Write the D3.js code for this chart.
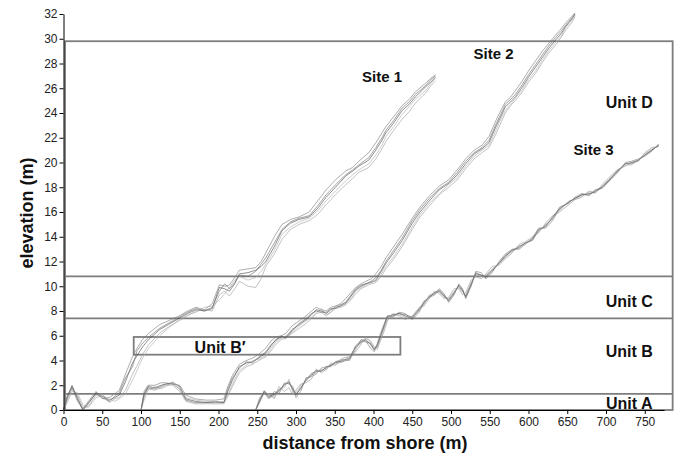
<!DOCTYPE html>
<html lang="en">
<head>
<meta charset="UTF-8" />
<title>Cross-shore elevation profiles</title>
<script src="https://cdn.jsdelivr.net/npm/d3@7"></script>
<style>
  body { margin: 0; background: #fff; }
  svg text { font-family: "Liberation Sans", Arial, Helvetica, sans-serif; }
  .tick text { font-size: 12px; fill: #222; }
  .lbl { font-weight: bold; fill: #111; }
</style>
</head>
<body>
<svg id="chart" width="678" height="455"></svg>
<script>
// x ticks / y ticks
const xTicks = [0, 50, 100, 150, 200, 250, 300, 350, 400, 450, 500, 550, 600, 650, 700, 750];
const yTicks = [0, 2, 4, 6, 8, 10, 12, 14, 16, 18, 20, 22, 24, 26, 28, 30, 32];

// unit boundaries (m elevation) and names
const unitTops = [29.8, 10.8, 7.4, 1.3];
const unitNames = ["Unit D", "Unit C", "Unit B", "Unit A"];
// Unit B' box: distance range and elevation range
const unitBPrimeX = [90.6, 434.7];
const unitBPrimeY = [4.47, 5.9];

const siteNames = ["Site 1", "Site 2", "Site 3"];

// Site 1 profiles, shared distances
const site1X = [0,5,11,18,25,32,42,50,59,66,72,80,89,95,102,110,124,135,149,160,171,182,192,201,208,214,221,227,238,248,255,261,272,282,293,304,317,328,339,351,364,373,381,394,403,411,416,426,437,446,454,467,474,480];
const site1Y = [
  [0,1.0,1.9,0.9,0,0.5,1.4,1.1,0.8,1.0,1.2,2.3,3.8,4.4,5.1,5.7,6.5,6.9,7.4,7.8,8.1,8.0,8.2,9.9,9.8,9.6,10.2,11.0,11.1,11.3,11.6,12.0,13.2,14.5,15.1,15.4,15.6,16.3,17.2,18.0,18.9,19.3,19.7,20.2,21.0,21.8,22.4,23.2,24.2,24.7,25.3,26.1,26.5,26.9],
  [0,0.8,1.7,1.2,0.2,0.3,1.2,1.3,0.6,0.9,1.0,1.6,2.9,3.6,4.5,5.3,6.2,6.7,7.2,7.6,8.0,8.1,8.0,9.3,9.6,9.2,9.8,10.4,10.0,9.9,10.6,11.6,12.6,13.8,14.6,15.0,15.3,15.8,16.6,17.4,18.2,18.7,19.2,19.6,20.3,21.1,21.7,22.6,23.5,24.1,24.8,25.6,26.2,26.6],
  [0,1.2,1.8,0.7,0.1,0.7,1.5,0.9,1.0,1.3,1.6,2.9,4.3,5.0,5.7,6.2,6.9,7.2,7.6,8.0,8.3,8.1,8.6,10.1,10.0,10.1,10.7,11.3,11.4,11.5,12.0,12.7,14.0,15.0,15.4,15.6,16.0,16.9,17.8,18.6,19.3,19.6,20.1,20.8,21.6,22.4,22.9,23.7,24.6,25.1,25.7,26.4,26.8,27.1],
  [0,0.6,1.5,1.4,0.4,0.2,1.0,1.2,0.9,0.7,0.9,1.3,2.4,3.2,4.2,5.0,6.0,6.6,7.3,7.7,7.9,8.3,8.4,8.9,9.4,9.9,10.5,10.8,10.5,10.7,11.2,11.8,12.9,14.2,14.8,15.2,15.5,16.1,16.9,17.7,18.5,19.0,19.4,19.9,20.6,21.4,22.1,22.9,23.9,24.5,25.1,25.8,26.4,26.8],
  [0,1.1,2.0,1.0,0.0,0.6,1.3,1.0,0.7,1.1,1.4,2.6,3.5,4.8,5.4,5.9,6.6,7.0,7.5,7.9,8.2,8.0,8.3,9.6,10.2,9.8,10.3,10.9,10.8,11.2,11.8,12.3,13.5,14.6,15.2,15.5,15.7,16.5,17.4,18.2,19.0,19.4,19.8,20.4,21.2,22.0,22.6,23.4,24.4,24.9,25.5,26.2,26.7,27.0]
];

// Site 2 profiles
const site2X = [100,104,109,118,126,132,141,150,158,170,184,196,207,212,218,227,236,244,252,261,268,274,281,287,295,304,313,320,326,333,339,345,351,358,364,371,377,384,390,397,403,410,416,426,437,450,460,472,485,497,508,519,530,540,549,558,565,570,577,583,592,600,609,618,627,635,642,648,656,660];
const site2Y = [
  [0,1.3,1.9,1.8,2.0,2.1,2.2,1.9,0.9,0.7,0.6,0.6,0.6,1.5,2.4,3.5,3.8,3.9,4.2,4.6,5.2,5.7,5.9,5.9,6.5,6.9,7.3,7.7,8.1,8.0,7.8,8.1,8.3,8.4,8.6,9.2,9.7,10.0,10.2,10.3,10.5,11.2,11.85,12.7,13.7,15.1,16.0,16.9,17.8,18.3,19.0,19.9,20.7,21.1,21.6,22.9,23.8,24.5,24.9,25.3,26.1,26.9,27.7,28.5,29.3,29.9,30.4,31.0,31.6,32.0],
  [0,1.0,1.7,1.6,1.8,2.0,2.0,1.5,0.7,0.5,0.5,0.5,0.5,1.1,1.9,3.0,3.5,3.7,4.0,4.3,4.8,5.3,5.7,5.8,6.2,6.6,7.0,7.4,7.8,7.9,7.6,7.9,8.2,8.3,8.5,8.9,9.4,9.8,10.0,10.2,10.3,10.8,11.4,12.2,13.2,14.6,15.6,16.5,17.4,18.0,18.6,19.5,20.3,20.8,21.2,22.3,23.3,24.0,24.6,25.0,25.7,26.5,27.2,28.1,28.9,29.5,30.1,30.7,31.3,31.8],
  [0,1.5,2.0,2.0,2.2,2.2,2.1,2.0,1.2,0.9,0.8,0.8,0.9,1.9,2.8,3.7,4.0,4.2,4.5,5.0,5.6,5.9,6.0,6.2,6.8,7.2,7.6,8.0,8.3,8.1,8.0,8.3,8.4,8.6,9.0,9.5,9.9,10.2,10.4,10.6,11.0,11.6,12.3,13.2,14.2,15.5,16.4,17.3,18.1,18.6,19.4,20.3,21.0,21.4,22.1,23.4,24.3,24.9,25.3,25.8,26.6,27.4,28.2,29.0,29.7,30.3,30.8,31.3,31.8,32.1],
  [0,0.8,1.6,1.9,1.7,1.9,2.3,1.8,1.0,0.8,0.7,0.6,0.7,1.2,2.1,3.2,3.6,4.0,4.1,4.4,5.0,5.5,5.8,6.0,6.3,6.8,7.2,7.5,7.9,8.2,7.7,7.9,8.4,8.5,8.7,9.0,9.6,9.9,10.1,10.4,10.4,11.0,11.6,12.4,13.4,14.8,15.8,16.7,17.5,18.2,18.8,19.7,20.5,21.0,21.4,22.6,23.6,24.2,24.7,25.2,25.9,26.7,27.4,28.3,29.1,29.7,30.2,30.9,31.5,31.9],
  [0,1.2,1.8,1.7,1.9,2.1,2.1,1.7,0.8,0.6,0.6,0.7,0.6,1.7,2.6,3.4,3.9,3.8,4.3,4.7,5.3,5.6,6.0,5.8,6.4,7.0,7.4,7.8,8.0,7.9,7.9,8.2,8.2,8.5,8.7,9.3,9.8,10.1,10.2,10.4,10.7,11.3,12.0,12.9,13.9,15.3,16.2,17.1,17.9,18.4,19.2,20.1,20.8,21.2,21.8,23.1,24.0,24.7,25.1,25.5,26.3,27.1,27.9,28.7,29.5,30.1,30.6,31.1,31.7,32.0]
];

// Site 3 profiles
const site3X = [248,253,259,265,272,278,285,291,296,300,306,313,320,326,333,339,345,351,360,369,377,384,390,396,401,405,409,414,418,425,433,441,450,459,465,472,479,485,491,497,504,510,515,519,526,532,539,545,553,562,570,579,588,596,605,613,622,631,640,652,660,669,678,686,695,704,714,725,733,742,750,759,768];
const site3Y = [
  [0,0.8,1.5,1.1,1.3,1.6,2.0,2.3,1.6,1.2,1.8,2.4,2.8,3.1,3.2,3.4,3.6,3.8,4.0,4.2,5.1,5.5,5.7,5.3,4.85,5.2,5.9,6.8,7.5,7.6,7.8,7.6,7.4,8.1,8.6,9.2,9.4,9.6,9.2,8.9,9.5,10.0,9.6,9.2,10.2,11.0,10.9,10.8,11.3,11.85,12.4,12.9,13.2,13.5,13.7,14.5,14.9,15.5,16.2,16.8,17.1,17.4,17.5,17.6,18.0,18.6,19.2,19.9,19.9,20.2,20.6,21.0,21.4],
  [0,1.0,1.3,1.3,1.0,1.9,1.5,1.8,1.2,1.6,2.1,2.2,2.5,3.3,3.0,3.3,3.7,3.6,4.2,4.3,4.7,5.3,5.9,5.6,5.1,5.0,5.6,6.4,7.2,7.8,7.6,7.3,7.6,8.3,8.4,9.0,9.6,9.4,9.0,9.1,9.8,9.8,9.3,9.5,10.5,10.8,10.6,11.0,11.6,11.7,12.2,12.7,13.4,13.6,14.0,14.3,15.1,15.7,16.0,16.6,17.0,17.2,17.7,17.5,18.2,18.8,19.4,19.7,20.0,20.1,20.8,21.2,21.3],
  [0,0.6,1.4,0.9,1.5,1.3,2.2,2.1,1.9,1.0,1.5,2.6,2.7,2.9,3.4,3.5,3.5,3.9,4.1,4.0,4.9,5.7,5.6,5.0,4.7,5.4,6.2,7.0,7.6,7.5,7.9,7.8,7.3,7.9,8.8,9.1,9.3,9.8,9.4,8.7,9.3,10.2,9.8,9.0,10.0,11.2,11.1,10.6,11.1,12.0,12.6,13.0,13.0,13.4,13.9,14.7,14.7,15.3,16.4,16.7,17.2,17.5,17.3,17.8,17.9,18.5,19.1,20.0,20.1,20.3,20.5,20.9,21.5],
  [0,0.9,1.6,1.2,0.9,1.7,1.8,2.5,1.4,1.4,2.0,2.3,3.0,3.0,3.3,3.2,3.8,3.7,3.9,4.4,5.0,5.4,5.8,5.5,5.0,4.9,5.7,6.6,7.4,7.7,7.7,7.5,7.5,8.0,8.5,9.3,9.5,9.5,9.1,9.0,9.6,9.9,9.5,9.3,10.3,10.9,10.8,10.9,11.4,11.8,12.3,12.8,13.3,13.4,13.8,14.4,15.0,15.4,16.1,16.9,17.0,17.3,17.6,17.7,18.1,18.7,19.3,19.8,19.8,20.2,20.7,21.1,21.3],
  [0,0.7,1.5,1.0,1.2,1.5,2.1,2.2,1.7,1.3,1.7,2.5,2.9,3.2,3.1,3.5,3.6,3.9,3.9,4.1,5.2,5.6,5.5,5.4,4.9,5.3,6.0,6.9,7.6,7.7,7.8,7.7,7.5,8.2,8.7,9.1,9.5,9.7,9.3,8.8,9.4,10.1,9.7,9.1,10.1,11.1,10.9,10.7,11.2,11.9,12.5,12.9,13.1,13.5,13.8,14.6,14.8,15.6,16.3,16.8,17.1,17.4,17.4,17.7,18.0,18.5,19.3,19.9,20.0,20.2,20.6,21.0,21.4]
];

const margin = { top: 14, right: 14, bottom: 45, left: 63.5 },
    width = 678 - margin.left - margin.right,
    height = 455 - margin.top - margin.bottom;

const svg = d3.select("#chart")
    .append("g")
    .attr("transform", `translate(${margin.left}, ${margin.top})`);

const x = d3.scaleLinear().domain([0, 775]).range([0, 775 * 0.775]);
const y = d3.scaleLinear().domain([0, 32]).range([height, 0]);

// unit boxes
const boxColor = "#7d7d7d";
svg.append("rect")
    .attr("x", x(2)).attr("y", y(unitTops[0]))
    .attr("width", x(786) - x(2)).attr("height", y(0) - y(unitTops[0]))
    .attr("fill", "none").attr("stroke", boxColor).attr("stroke-width", 1.8);
svg.selectAll("line.unit")
    .data(unitTops.slice(1))
    .join("line")
    .attr("class", "unit")
    .attr("x1", x(2)).attr("x2", x(786))
    .attr("y1", d => y(d)).attr("y2", d => y(d))
    .attr("stroke", boxColor).attr("stroke-width", 1.8);
svg.append("rect")
    .attr("x", x(unitBPrimeX[0])).attr("y", y(unitBPrimeY[1]))
    .attr("width", x(unitBPrimeX[1]) - x(unitBPrimeX[0]))
    .attr("height", y(unitBPrimeY[0]) - y(unitBPrimeY[1]))
    .attr("fill", "none").attr("stroke", boxColor).attr("stroke-width", 1.8);

// profiles
const profColors = ["#444", "#999", "#777", "#aaa", "#666"];
const line = d3.line().x(d => x(d[0])).y(d => y(d[1]));
const sites = [[site1X, site1Y], [site2X, site2Y], [site3X, site3Y]];
sites.forEach(([xs, ys]) => {
    ys.forEach((prof, i) => {
        svg.append("path")
            .datum(xs.map((v, j) => [v, prof[j]]))
            .attr("d", line)
            .attr("fill", "none")
            .attr("stroke", profColors[i])
            .attr("stroke-width", 0.6);
    });
});

// axes
svg.append("g")
    .attr("transform", `translate(0, ${height})`)
    .call(d3.axisBottom(x).tickValues(xTicks).tickSize(4).tickSizeOuter(0).tickPadding(3));
svg.append("g")
    .call(d3.axisLeft(y).tickValues(yTicks).tickSize(4).tickSizeOuter(0).tickPadding(2));
svg.selectAll(".domain").attr("stroke", "#000");

// unit labels
const unitLabelY = [24.4, 8.3, 4.3, 0.1];
unitNames.forEach((n, i) => {
    svg.append("text").attr("class", "lbl")
        .attr("x", x(730)).attr("y", y(unitLabelY[i]))
        .attr("text-anchor", "middle").style("font-size", "16px")
        .text(n);
});
svg.append("text").attr("class", "lbl")
    .attr("x", x(202)).attr("y", y(4.6))
    .attr("text-anchor", "middle").style("font-size", "16px")
    .text("Unit B\u2032");

// site labels
const siteLabelPos = [[411, 26.5], [555, 28.4], [684, 20.6]];
siteNames.forEach((n, i) => {
    svg.append("text").attr("class", "lbl")
        .attr("x", x(siteLabelPos[i][0])).attr("y", y(siteLabelPos[i][1]))
        .attr("text-anchor", "middle").style("font-size", "15px")
        .text(n);
});

// axis titles
svg.append("text").attr("class", "lbl")
    .attr("x", 365 - margin.left).attr("y", height + 39)
    .attr("text-anchor", "middle").style("font-size", "18px")
    .text("distance from shore (m)");
svg.append("text").attr("class", "lbl")
    .attr("transform", `translate(${33 - margin.left}, ${213 - margin.top}) rotate(-90)`)
    .attr("text-anchor", "middle").style("font-size", "18px")
    .text("elevation (m)");
</script>
</body>
</html>
